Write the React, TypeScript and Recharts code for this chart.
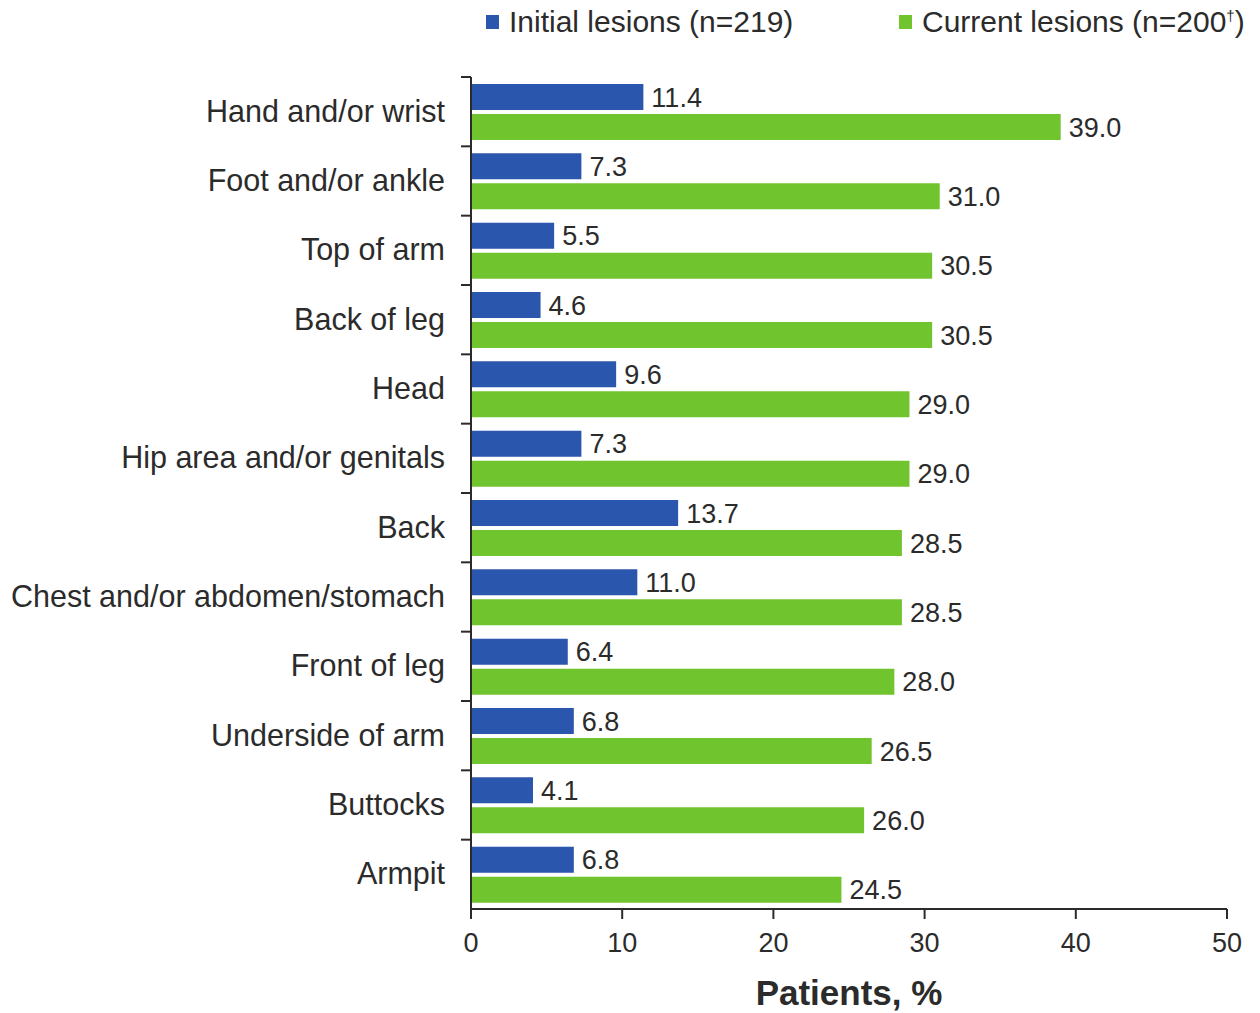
import React from "react";
import { BarChart, Bar, XAxis, YAxis, LabelList, Label } from "recharts";

const sites = [
  "Hand and/or wrist",
  "Foot and/or ankle",
  "Top of arm",
  "Back of leg",
  "Head",
  "Hip area and/or genitals",
  "Back",
  "Chest and/or abdomen/stomach",
  "Front of leg",
  "Underside of arm",
  "Buttocks",
  "Armpit",
];
const initialLesions = [11.4, 7.3, 5.5, 4.6, 9.6, 7.3, 13.7, 11.0, 6.4, 6.8, 4.1, 6.8];
const currentLesions = [39.0, 31.0, 30.5, 30.5, 29.0, 29.0, 28.5, 28.5, 28.0, 26.5, 26.0, 24.5];
const xTicks = [0, 10, 20, 30, 40, 50];

const data = sites.map((site, i) => ({
  site,
  initial: initialLesions[i],
  current: currentLesions[i],
}));

const BLUE = "#2b56ad";
const GREEN = "#70c52f";
const INK = "#2b2b2b";
const FONT = "'Liberation Sans', Arial, sans-serif";

// category label at band centre, small tick mark at the top edge of each band
const SiteTick = (props: any) => {
  const { x, y, payload } = props;
  const half = payload.offset || 0;
  return (
    <g>
      <line x1={x - 2} x2={x + 8} y1={y - half} y2={y - half} stroke={INK} strokeWidth={2} />
      <text x={x - 18} y={y} dy={10} textAnchor="end" fontSize={30.5} fill={INK} fontFamily={FONT}>
        {payload.value}
      </text>
    </g>
  );
};

const fmt = (v: any) => Number(v).toFixed(1);

export default function App() {
  return (
    <div style={{ position: "absolute", left: 0, top: 0, width: 1260, height: 1013, background: "#fff", fontFamily: FONT }}>
      <div style={{ position: "absolute", left: 486, top: 5, display: "flex", alignItems: "center", fontSize: 30, color: INK }}>
        <span style={{ width: 13, height: 14, background: BLUE, display: "inline-block", marginRight: 10 }} />
        <span>Initial lesions (n=219)</span>
      </div>
      <div style={{ position: "absolute", left: 899, top: 5, display: "flex", alignItems: "center", fontSize: 30, color: INK, whiteSpace: "nowrap" }}>
        <span style={{ width: 13, height: 14, background: GREEN, display: "inline-block", marginRight: 10 }} />
        <span>
          Current lesions (n=200<sup style={{ fontSize: 15 }}>†</sup>)
        </span>
      </div>
      <BarChart
        width={1260}
        height={1013}
        data={data}
        layout="vertical"
        margin={{ top: 77, right: 33, left: 0, bottom: 0 }}
        barCategoryGap={7}
        barGap={4}
      >
        <XAxis
          type="number"
          domain={[0, 50]}
          ticks={xTicks}
          height={104}
          axisLine={{ stroke: INK, strokeWidth: 2 }}
          tickLine={{ stroke: INK, strokeWidth: 2 }}
          tickSize={10}
          tickMargin={14}
          tick={{ fontSize: 27, fill: INK, fontFamily: FONT }}
        >
          <Label
            value="Patients, %"
            position="insideBottom"
            offset={8}
            style={{ fontSize: 35, fontWeight: "bold", fill: INK, fontFamily: FONT }}
          />
        </XAxis>
        <YAxis
          type="category"
          dataKey="site"
          width={471}
          axisLine={{ stroke: INK, strokeWidth: 2 }}
          tickLine={false}
          tick={<SiteTick />}
          interval={0}
        />
        <Bar dataKey="initial" fill={BLUE} isAnimationActive={false}>
          <LabelList dataKey="initial" position="right" offset={8} formatter={fmt} style={{ fontSize: 27, fill: INK, fontFamily: FONT }} />
        </Bar>
        <Bar dataKey="current" fill={GREEN} isAnimationActive={false}>
          <LabelList dataKey="current" position="right" offset={8} formatter={fmt} style={{ fontSize: 27, fill: INK, fontFamily: FONT }} />
        </Bar>
      </BarChart>
    </div>
  );
}
